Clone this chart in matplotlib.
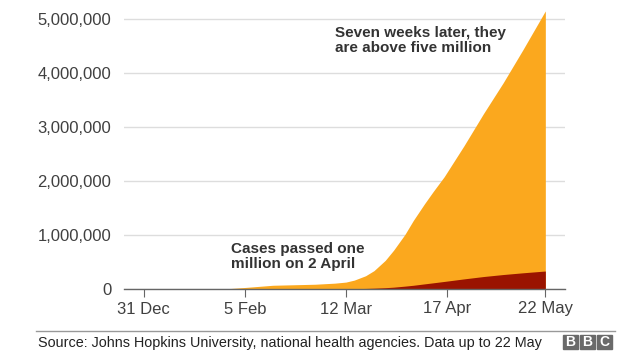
import matplotlib.pyplot as plt
import matplotlib.dates as mdates
from matplotlib.patches import Rectangle
import numpy as np

# cumulative confirmed cases and deaths (approx)
dates = np.array(['2019-12-31', '2020-01-22', '2020-01-31', '2020-02-05', '2020-02-15',
                  '2020-03-01', '2020-03-08', '2020-03-12', '2020-03-15', '2020-03-19',
                  '2020-03-22', '2020-03-26', '2020-03-29', '2020-04-02', '2020-04-05',
                  '2020-04-09', '2020-04-12', '2020-04-16', '2020-04-23', '2020-04-30',
                  '2020-05-07', '2020-05-14', '2020-05-22'], dtype='datetime64[D]')
cases = [0, 555, 9800, 28000, 69000, 88000, 108000, 128000, 165000, 245000,
         340000, 530000, 720000, 1010000, 1270000, 1580000, 1800000, 2080000,
         2650000, 3250000, 3820000, 4430000, 5150000]
deaths = [0, 17, 210, 565, 1670, 3000, 3800, 4700, 6500, 10000,
          15000, 24000, 34000, 53000, 69000, 95000, 114000, 140000,
          187000, 231000, 268000, 300000, 333000]

tick_dates = np.array(['2019-12-31', '2020-02-05', '2020-03-12', '2020-04-17', '2020-05-22'],
                      dtype='datetime64[D]')
tick_labels = ['31 Dec', '5 Feb', '12 Mar', '17 Apr', '22 May']
yticks = [0, 1000000, 2000000, 3000000, 4000000, 5000000]

orange = '#fba81e'
darkred = '#9a1300'
txt = '#404040'

plt.rcParams['font.family'] = ['Liberation Sans', 'DejaVu Sans']

fig = plt.figure(figsize=(6.4, 3.6), dpi=100)
ax = fig.add_axes([124 / 640, 1 - 289 / 360, (565 - 124) / 640, (289 - 5.5) / 360])

x = mdates.date2num(dates)
ax.fill_between(x, 0, cases, color=orange, lw=0)
ax.fill_between(x, 0, deaths, color=darkred, lw=0)

ax.set_xlim(mdates.date2num(np.datetime64('2019-12-24')), mdates.date2num(np.datetime64('2020-05-29')))
ax.set_ylim(0, 5.25e6)

ax.set_yticks(yticks)
ax.set_yticklabels(['{:,}'.format(v) for v in yticks])
ax.set_xticks(mdates.date2num(tick_dates))
ax.set_xticklabels(tick_labels)

for s in ['top', 'right', 'left']:
    ax.spines[s].set_visible(False)
ax.spines['bottom'].set_color('#666666')
ax.spines['bottom'].set_linewidth(1)
ax.spines['bottom'].set_zorder(5)

ax.grid(axis='y', color='#dddddd', lw=1)
ax.set_axisbelow(True)
ax.tick_params(axis='y', length=0, pad=9, labelsize=12, labelcolor=txt)
ax.tick_params(axis='x', length=6, color='#666666', pad=3, labelsize=12, labelcolor=txt)

ax.text(mdates.date2num(np.datetime64('2020-03-08')), 4.6e6,
        'Seven weeks later, they\nare above five million',
        fontsize=11, fontweight='bold', color='#333333', va='center', linespacing=1.1)
ax.text(mdates.date2num(np.datetime64('2020-01-31')), 0.6e6,
        'Cases passed one\nmillion on 2 April',
        fontsize=11, fontweight='bold', color='#333333', va='center', linespacing=1.1)

# footer
fig.add_artist(plt.Line2D([36 / 640, 615 / 640], [1 - 331 / 360] * 2, color='#999999', lw=1))
fig.text(38 / 640, 1 - 343 / 360, 'Source: Johns Hopkins University, national health agencies. Data up to 22 May',
         fontsize=10.4, color='#222222', va='center')
for i, letter in enumerate('BBC'):
    x0 = (563 + i * 17) / 640
    fig.add_artist(Rectangle((x0, 1 - 349 / 360), 15 / 640, 14 / 360,
                             color='#6a6a6a', transform=fig.transFigure))
    fig.text(x0 + 7.5 / 640, 1 - 342 / 360, letter, color='white', fontsize=10,
             fontweight='bold', ha='center', va='center')

fig.savefig('out.png', dpi=100)
